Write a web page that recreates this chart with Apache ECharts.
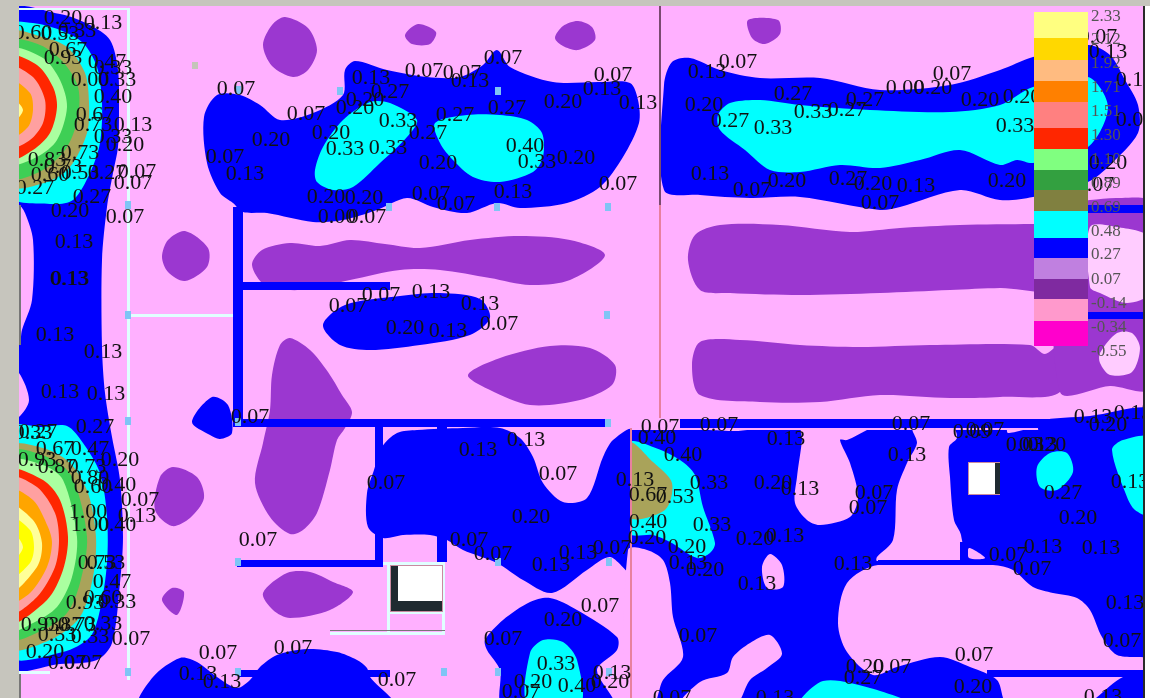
<!DOCTYPE html>
<html>
<head>
<meta charset="utf-8">
<style>
html, body { margin: 0; padding: 0; background: #c6c5bd; }
#chart { width: 1150px; height: 698px; }
</style>
<script src="https://cdn.jsdelivr.net/npm/echarts@6/dist/echarts.min.js"></script>
</head>
<body>
<div id="chart"></div>
<script>
// contour outlines, in axis units
const purpleOutlines = [
  [[185,231],[208,248],[207,267],[185,281],[168,272],[162,257],[168,240]],
  [[263,45],[272,25],[285,17],[308,28],[317,50],[308,70],[293,77],[272,66]],
  [[405,35],[418,24],[436,32],[430,44],[412,44]],
  [[555,38],[563,26],[578,21],[592,27],[595,40],[578,50],[563,46]],
  [[748,20],[778,20],[780,34],[765,44],[752,38]],
  [[252,265],[262,250],[290,243],[320,246],[350,240],[385,244],[420,248],[470,240],[520,236],[570,240],[605,255],[570,280],[530,285],[490,278],[440,270],[400,270],[350,280],[300,290],[265,285]],
  [[270,410],[272,375],[280,345],[290,338],[310,350],[328,372],[342,395],[352,412],[345,428],[337,440],[330,470],[317,513],[303,530],[290,534],[270,517],[255,483],[263,443]],
  [[173,467],[197,477],[204,498],[190,518],[172,526],[155,510],[160,477]],
  [[263,593],[287,573],[310,572],[333,582],[353,592],[330,610],[290,618],[273,610]],
  [[172,588],[184,592],[177,615],[162,600]],
  [[468,375],[500,358],[550,346],[590,348],[615,365],[612,385],[580,400],[530,405],[490,390]],
  [[688,260],[695,235],[720,225],[780,225],[850,232],[900,228],[960,225],[1033,224],[1060,224],[1060,288],[1000,288],[950,290],[880,293],[800,295],[730,293],[700,290]],
  [[692,365],[700,342],[740,340],[800,345],[860,347],[930,345],[1030,345],[1045,354],[1060,345],[1060,392],[1000,397],[950,398],[880,395],[820,402],[760,402],[700,395]],
  [[1060,205],[1090,200],[1120,198],[1150,203],[1150,388],[1110,386],[1060,392]]
];
const paleOutlines = [
  [[1090,227],[1117,227],[1150,238],[1150,293],[1127,303],[1100,293],[1090,287]],
  [[1100,353],[1117,333],[1132,333],[1140,348],[1132,372],[1110,375],[1100,363]]
];
const blueOutlines = [
  [[10,12],[60,14],[90,25],[110,40],[118,70],[119,110],[118,147],[113,173],[107,207],[102,260],[102,347],[105,393],[112,437],[120,480],[123,537],[120,583],[112,643],[97,660],[60,664],[10,666]],
  [[204,117],[217,95],[240,95],[260,105],[280,120],[313,113],[343,95],[345,70],[355,61],[387,70],[427,77],[460,77],[483,65],[497,50],[510,67],[553,82],[600,82],[630,83],[638,100],[639,123],[623,157],[600,187],[567,203],[520,208],[497,203],[467,213],[433,207],[407,198],[377,210],[343,220],[313,222],[267,213],[243,212],[233,203],[220,193],[207,163]],
  [[323,325],[345,305],[400,296],[440,293],[480,299],[490,318],[470,335],[420,345],[370,350],[340,345]],
  [[664,85],[672,62],[690,58],[720,70],[760,78],[820,78],[880,90],[950,85],[1000,70],[1033,57],[1088,45],[1110,55],[1125,80],[1138,105],[1138,133],[1110,165],[1088,182],[1033,197],[1000,200],[960,190],[900,207],[880,210],[800,197],[750,198],[700,195],[664,190]],
  [[382,447],[397,433],[417,430],[463,428],[500,428],[520,438],[533,457],[543,483],[563,502],[587,498],[603,457],[613,440],[632,430],[632,573],[610,557],[587,570],[552,593],[523,580],[497,563],[463,550],[447,540],[430,535],[403,535],[383,538],[368,527],[367,493],[374,470]],
  [[485,640],[503,620],[530,602],[550,598],[577,610],[617,637],[617,650],[597,670],[613,705],[503,705],[500,670],[487,650]],
  [[140,705],[153,677],[180,658],[197,662],[217,677],[237,688],[250,680],[260,667],[277,655],[307,649],[337,652],[357,660],[367,668],[370,677],[393,705]],
  [[192,422],[212,397],[228,405],[232,433],[220,439],[210,435]],
  [[1040,421],[1090,416],[1150,408],[1150,432],[1040,432]]
];
const blueBlocks = [[630,430,1143,698]];
const pinkOutlines = [
  [[802,428],[802,440],[797,477],[795,503],[807,520],[820,525],[850,517],[858,497],[850,463],[840,440],[847,440],[867,430],[870,428]],
  [[687,428],[760,428],[735,431]],
  [[913,428],[917,443],[907,463],[897,490],[893,540],[877,557],[877,561],[961,561],[961,535],[954,520],[950,477],[949,447],[957,438],[953,428]],
  [[969,548],[985,558],[969,558]],
  [[1008,433],[1008,427],[1032,427]],
  [[878,565],[847,583],[838,623],[847,652],[873,675],[897,667],[940,657],[970,667],[997,680],[1008,705],[1083,705],[1123,677],[1150,675],[1150,659],[1117,655],[1102,637],[1090,610],[1077,598],[1053,593],[1033,587],[1013,570],[993,565]],
  [[628,550],[647,550],[663,560],[670,583],[673,617],[683,657],[663,680],[653,705],[628,705]],
  [[770,635],[782,654],[767,668],[750,680],[735,705],[680,705],[700,682],[727,673],[733,657],[750,643]],
  [[770,554],[782,565],[783,587],[767,588],[762,567]],
  [[19,205],[25,213],[33,240],[32,300],[22,330],[19,345],[10,345],[10,205]],
  [[10,373],[19,373],[29,400],[19,417],[10,417]]
];
const cyanOutlines = [
  [[10,25],[33,23],[60,30],[83,43],[97,67],[102,103],[100,143],[90,173],[73,200],[50,204],[10,195]],
  [[10,428],[43,427],[67,426],[83,443],[100,473],[107,517],[107,563],[100,610],[90,637],[63,652],[10,655]],
  [[315,170],[323,147],[343,120],[370,102],[390,103],[417,120],[407,137],[380,163],[353,187],[333,190],[317,182]],
  [[435,123],[467,115],[500,115],[527,120],[542,133],[543,157],[533,172],[500,182],[473,177],[453,160],[440,143]],
  [[718,115],[730,103],[760,100],[800,105],[870,110],[950,112],[1000,105],[1033,87],[1088,77],[1108,107],[1088,147],[1033,163],[1017,160],[1000,165],[960,150],[920,160],[880,168],[840,165],[800,172],[770,170],[745,150],[720,130]],
  [[630,443],[653,447],[680,460],[695,475],[703,507],[715,543],[710,553],[697,558],[670,542],[653,535],[630,533]],
  [[1037,467],[1050,453],[1067,453],[1073,472],[1057,490],[1040,487]],
  [[1112,450],[1123,440],[1150,438],[1150,515],[1135,510],[1127,497]],
  [[800,705],[823,681],[870,688],[913,705]],
  [[530,653],[543,640],[563,642],[577,660],[580,705],[528,705]]
];
const oliveOutlines = [
  [[10,33],[43,37],[67,47],[85,73],[89,103],[87,133],[70,167],[47,182],[10,185]],
  [[10,447],[43,448],[70,463],[88,493],[96,537],[93,577],[80,617],[50,640],[10,647]],
  [[630,443],[653,462],[672,483],[665,510],[630,517]]
];
const greenOutlines = [
  [[10,42],[40,45],[63,62],[78,87],[78,117],[67,147],[43,170],[10,177]],
  [[10,453],[50,458],[72,477],[87,537],[80,583],[67,613],[43,630],[10,638]]
];
const lightGreenOutlines = [
  [[10,50],[43,58],[60,80],[67,107],[57,140],[37,157],[10,163]],
  [[10,462],[43,465],[63,480],[77,537],[72,577],[57,607],[33,623],[10,630]]
];
const redOutlines = [
  [[10,57],[37,65],[53,87],[57,107],[50,133],[33,150],[10,159]],
  [[10,471],[43,480],[60,500],[68,537],[63,570],[47,600],[10,622]]
];
const salmonOutlines = [
  [[10,67],[33,77],[45,100],[43,123],[30,140],[10,147]],
  [[10,478],[37,487],[55,513],[59,540],[55,567],[37,597],[10,613]]
];
const orangeOutlines = [
  [[10,80],[30,93],[33,110],[28,127],[10,138]],
  [[10,490],[33,500],[48,527],[52,543],[47,567],[30,593],[10,602]]
];
const creamOutlines = [
  [[10,97],[23,110],[10,125]],
  [[10,505],[33,520],[42,543],[37,567],[10,592]],
  [[10,530],[23,547],[10,563]]
];
const yellowOutlines = [
  [[10,517],[30,530],[34,547],[30,563],[10,578]]
];
const wallRects = [
  [233,207,243,425],[240,282,390,290],[233,419,610,427],[375,425,383,565],[237,560,383,567],
  [437,425,447,436],[437,535,447,562],[238,670,390,677],[680,419,1143,428],[878,560,993,565],
  [960,542,968,562],[987,670,1143,677],[1088,205,1143,213],[1088,312,1143,319]
];
const lightLines = [
  [127,8,130,680],[19,8,128,10],[128,314,233,317],[19,671,50,674],
  [387,563,390,633],[442,563,445,633],[383,562,445,565],[388,611,444,614],[330,632,445,635]
];
const darkLines = [[330,630,445,631],[19,205,21,345],[19,674,21,698]];
const gridMarks = [
  [128,205],[128,315],[128,421],[128,672],[238,90],[340,91],[498,91],[389,207],[497,207],[608,207],
  [607,315],[238,422],[608,423],[238,562],[498,562],[609,562],[238,672],[444,672],[498,672],[609,672]
];
const levelLabels = [
  [63,18,'0.20'],[103,23,'0.13'],[77,31,'0.33'],[33,33,'0.60'],[60,34,'0.53'],[68,50,'0.67'],[63,58,'0.93'],[107,62,'0.47'],[113,68,'0.33'],[90,80,'0.00'],[117,80,'0.33'],[113,97,'0.40'],[95,115,'0.67'],[93,125,'0.73'],[133,125,'0.13'],[113,137,'0.33'],[125,145,'0.20'],[47,160,'0.83'],[80,153,'0.73'],[63,167,'0.73'],[50,175,'0.60'],[80,173,'0.53'],[107,173,'0.27'],[137,172,'0.07'],[133,183,'0.07'],[35,188,'0.27'],[92,197,'0.27'],[70,211,'0.20'],[125,217,'0.07'],[74,242,'0.13'],[69,279,'0.13'],[70,279,'0.13'],[55,335,'0.13'],[103,352,'0.13'],
  [60,392,'0.13'],[106,394,'0.13'],[95,427,'0.27'],[33,433,'0.33'],[38,432,'0.27'],[55,449,'0.67'],[90,449,'0.47'],[120,460,'0.20'],[37,460,'0.93'],[57,467,'0.87'],[87,467,'0.73'],[90,478,'0.80'],[93,487,'0.60'],[117,485,'0.40'],[140,500,'0.07'],[88,512,'1.00'],[137,516,'0.13'],[90,525,'1.00'],[117,525,'0.40'],[106,563,'0.53'],[97,563,'0.73'],[112,582,'0.47'],[85,603,'0.93'],[103,598,'0.60'],[117,602,'0.33'],[40,625,'0.93'],[63,625,'0.87'],[77,625,'0.73'],[103,624,'0.33'],[57,635,'0.53'],[90,637,'0.33'],[131,639,'0.07'],[45,652,'0.20'],[67,663,'0.07'],[83,663,'0.07'],
  [236,89,'0.07'],[306,114,'0.07'],[371,78,'0.13'],[390,92,'0.27'],[365,100,'0.20'],[355,108,'0.20'],[424,71,'0.07'],[462,73,'0.07'],[470,81,'0.13'],[503,58,'0.07'],[602,89,'0.13'],[613,75,'0.07'],[638,103,'0.13'],[563,102,'0.20'],[507,108,'0.27'],[455,115,'0.27'],[398,121,'0.33'],[428,133,'0.27'],[331,133,'0.20'],[271,140,'0.20'],[345,149,'0.33'],[388,148,'0.33'],[225,157,'0.07'],[245,174,'0.13'],[525,146,'0.40'],[537,162,'0.33'],[576,158,'0.20'],[438,163,'0.20'],[618,184,'0.07'],[513,192,'0.13'],[431,194,'0.07'],[456,204,'0.07'],[326,197,'0.20'],[364,198,'0.20'],[337,217,'0.00'],[367,217,'0.07'],
  [348,306,'0.07'],[381,295,'0.07'],[431,292,'0.13'],[480,304,'0.13'],[405,328,'0.20'],[448,331,'0.13'],[499,324,'0.07'],
  [250,417,'0.07'],[478,450,'0.13'],[526,440,'0.13'],[386,483,'0.07'],[558,474,'0.07'],[531,517,'0.20'],[258,540,'0.07'],[469,540,'0.07'],[493,554,'0.07'],[578,553,'0.13'],[551,565,'0.13'],[612,548,'0.07'],[600,606,'0.07'],[563,620,'0.20'],[503,639,'0.07'],[218,653,'0.07'],[293,648,'0.07'],[198,674,'0.13'],[222,682,'0.13'],[397,680,'0.07'],[556,664,'0.33'],[533,682,'0.20'],[521,692,'0.07'],[577,686,'0.40'],[610,682,'0.20'],[612,673,'0.13'],
  [660,427,'0.07'],[657,438,'0.40'],[719,425,'0.07'],[786,439,'0.13'],[911,424,'0.07'],[683,455,'0.40'],[907,455,'0.13'],[972,432,'0.09'],[985,430,'0.07'],[1025,445,'0.03'],[1038,445,'0.13'],[1047,445,'0.20'],[1093,417,'0.13'],[1108,425,'0.20'],[1133,413,'0.13'],[635,480,'0.13'],[648,495,'0.67'],[675,497,'0.53'],[709,483,'0.33'],[773,483,'0.20'],[800,489,'0.13'],[874,493,'0.07'],[868,508,'0.07'],[1063,493,'0.27'],[1078,518,'0.20'],[1130,482,'0.13'],[648,522,'0.40'],[712,525,'0.33'],[647,538,'0.20'],[785,536,'0.13'],[755,539,'0.20'],[687,547,'0.20'],[688,563,'0.13'],[705,570,'0.20'],[853,564,'0.13'],[757,584,'0.13'],[1008,555,'0.07'],[1043,547,'0.13'],[1101,548,'0.13'],[1032,569,'0.07'],[1125,603,'0.13'],[698,636,'0.07'],[1122,641,'0.07'],[974,655,'0.07'],[865,667,'0.20'],[892,667,'0.07'],[863,678,'0.27'],[973,687,'0.20'],[672,698,'0.07'],[775,698,'0.13'],[1103,697,'0.13'],
  [707,72,'0.13'],[738,62,'0.07'],[704,105,'0.20'],[730,121,'0.27'],[773,128,'0.33'],[793,94,'0.27'],[813,112,'0.33'],[847,110,'0.27'],[865,100,'0.27'],[905,88,'0.00'],[933,88,'0.20'],[952,74,'0.07'],[980,100,'0.20'],[1022,97,'0.20'],[1015,126,'0.33'],[710,174,'0.13'],[752,190,'0.07'],[787,181,'0.20'],[848,179,'0.27'],[873,184,'0.20'],[916,186,'0.13'],[880,203,'0.07'],[1007,181,'0.20'],
  [1098,37,'0.07'],[1108,52,'0.13'],[1135,80,'0.13'],[1135,120,'0.07'],[1108,163,'0.20'],[1095,185,'0.07']
];
// colour bar, top to bottom
const legendTicks = ['2.33','2.12','1.92','1.71','1.51','1.30','1.10','0.89','0.69','0.48','0.27','0.07','-0.14','-0.34','-0.55'];
const legendTickY = [17,40,64,88,112,136,160,184,208,232,255,280,304,328,352];
const legendStops = [12,38,60,81,102,128,149,170,190,211,238,258,279,299,321,346];
const legendColors = ['#ffff80','#ffd800','#ffbb80','#ff8000','#ff8080','#ff2600','#80ff80','#33a040','#808040','#00ffff','#0000ff','#c080e0','#7f2aa0','#ff99cc','#ff00cc'];

const fontFamily = '"Liberation Serif", serif';

// one custom series per layer, painted in order
const outlineLayer = (outlines, color, z) => ({
  type: 'custom',
  coordinateSystem: 'cartesian2d',
  silent: true,
  animation: false,
  z: z,
  data: outlines.map((o, i) => [i]),
  renderItem: (params, api) => ({
    type: 'polygon',
    shape: { points: outlines[api.value(0)].map((p) => api.coord(p)), smooth: 0.3 },
    style: { fill: color }
  })
});
const rectLayer = (rects, color, z) => ({
  type: 'custom',
  coordinateSystem: 'cartesian2d',
  silent: true,
  animation: false,
  z: z,
  data: rects.map((r, i) => [i]),
  renderItem: (params, api) => {
    const r = rects[api.value(0)];
    const a = api.coord([r[0], r[1]]);
    const b = api.coord([r[2], r[3]]);
    return { type: 'rect', shape: { x: a[0], y: a[1], width: b[0] - a[0], height: b[1] - a[1] }, style: { fill: color } };
  }
});

const legendRects = legendColors.map((c, i) => [1034, legendStops[i], 1088, legendStops[i + 1]]);

const option = {
  backgroundColor: '#c6c5bd',
  animation: false,
  grid: { left: 0, right: 0, top: 0, bottom: 0 },
  xAxis: { type: 'value', min: 0, max: 1150, show: false },
  yAxis: { type: 'value', min: 0, max: 698, inverse: true, show: false },
  series: [
    rectLayer([[19, 6, 1143, 698]], '#ffb0ff', 1),
    outlineLayer(purpleOutlines, '#9b37d0', 2),
    outlineLayer(paleOutlines, '#ffccff', 3),
    outlineLayer(blueOutlines, '#0000ff', 4),
    rectLayer(blueBlocks, '#0000ff', 5),
    outlineLayer(pinkOutlines, '#ffb0ff', 6),
    rectLayer(wallRects, '#0000ff', 7),
    outlineLayer(cyanOutlines, '#00ffff', 8),
    outlineLayer(oliveOutlines, '#a9a35a', 9),
    // keeps the corner spot on the right side of the section line
    rectLayer([[620, 436, 630, 548]], '#0000ff', 9),
    outlineLayer(greenOutlines, '#3ecf55', 10),
    outlineLayer(lightGreenOutlines, '#aaffa0', 11),
    outlineLayer(redOutlines, '#ff2600', 12),
    outlineLayer(salmonOutlines, '#ffa0a0', 13),
    outlineLayer(orangeOutlines, '#ffa500', 14),
    outlineLayer(creamOutlines, '#ffff99', 15),
    outlineLayer(yellowOutlines, '#ffff00', 16),
    outlineLayer(creamOutlines.slice(2), '#ffff99', 17),
    rectLayer(lightLines, '#e0ffff', 18),
    rectLayer(darkLines, '#777777', 19),
    rectLayer(gridMarks.map((m) => [m[0] - 3, m[1] - 4, m[0] + 3, m[1] + 4]), '#7fc4f5', 20),
    rectLayer([[192, 62, 198, 69]], '#c4c4b8', 20),
    // boxes and section lines
    rectLayer([[968, 462, 1000, 495], [390, 565, 443, 612]], '#c98aa0', 21),
    rectLayer([[969, 463, 995, 494], [398, 566, 442, 601]], '#ffffff', 22),
    rectLayer([[995, 463, 1000, 494], [391, 566, 398, 611], [391, 601, 442, 611]], '#1f2a30', 22),
    rectLayer([[659, 6, 661, 205]], '#7a4a70', 23),
    rectLayer([[659, 205, 661, 418], [630, 428, 632, 698]], '#e8809f', 23),
    // contour level labels
    {
      type: 'custom',
      coordinateSystem: 'cartesian2d',
      silent: true,
      animation: false,
      z: 30,
      data: levelLabels.map((l, i) => [i]),
      renderItem: (params, api) => {
        const l = levelLabels[api.value(0)];
        const p = api.coord([l[0], l[1]]);
        return {
          type: 'text',
          style: { text: l[2], x: p[0], y: p[1], align: 'center', verticalAlign: 'middle', font: '22px ' + fontFamily, fill: '#111111', shadowBlur: 1, shadowColor: 'rgba(0,0,0,0.5)' }
        };
      }
    },
    // margins and colour bar go over the labels
    rectLayer([[0, 0, 19, 698], [0, 0, 1150, 6]], '#c6c5bd', 40),
    rectLayer([[1145, 6, 1150, 698]], '#ffffff', 40),
    rectLayer([[1143, 6, 1145, 698]], '#2a2a2a', 40),
    ...legendColors.map((c, i) => rectLayer([legendRects[i]], c, 41)),
    {
      type: 'custom',
      coordinateSystem: 'cartesian2d',
      silent: true,
      animation: false,
      z: 42,
      data: legendTicks.map((t, i) => [i]),
      renderItem: (params, api) => {
        const i = api.value(0);
        const p = api.coord([1091, legendTickY[i]]);
        return {
          type: 'text',
          style: { text: legendTicks[i], x: p[0], y: p[1], align: 'left', verticalAlign: 'middle', font: '17px ' + fontFamily, fill: '#555555' }
        };
      }
    }
  ]
};

const chart = echarts.init(document.getElementById('chart'));
chart.setOption(option);
window.addEventListener('resize', function () {
  chart.resize();
});
</script>
</body>
</html>
